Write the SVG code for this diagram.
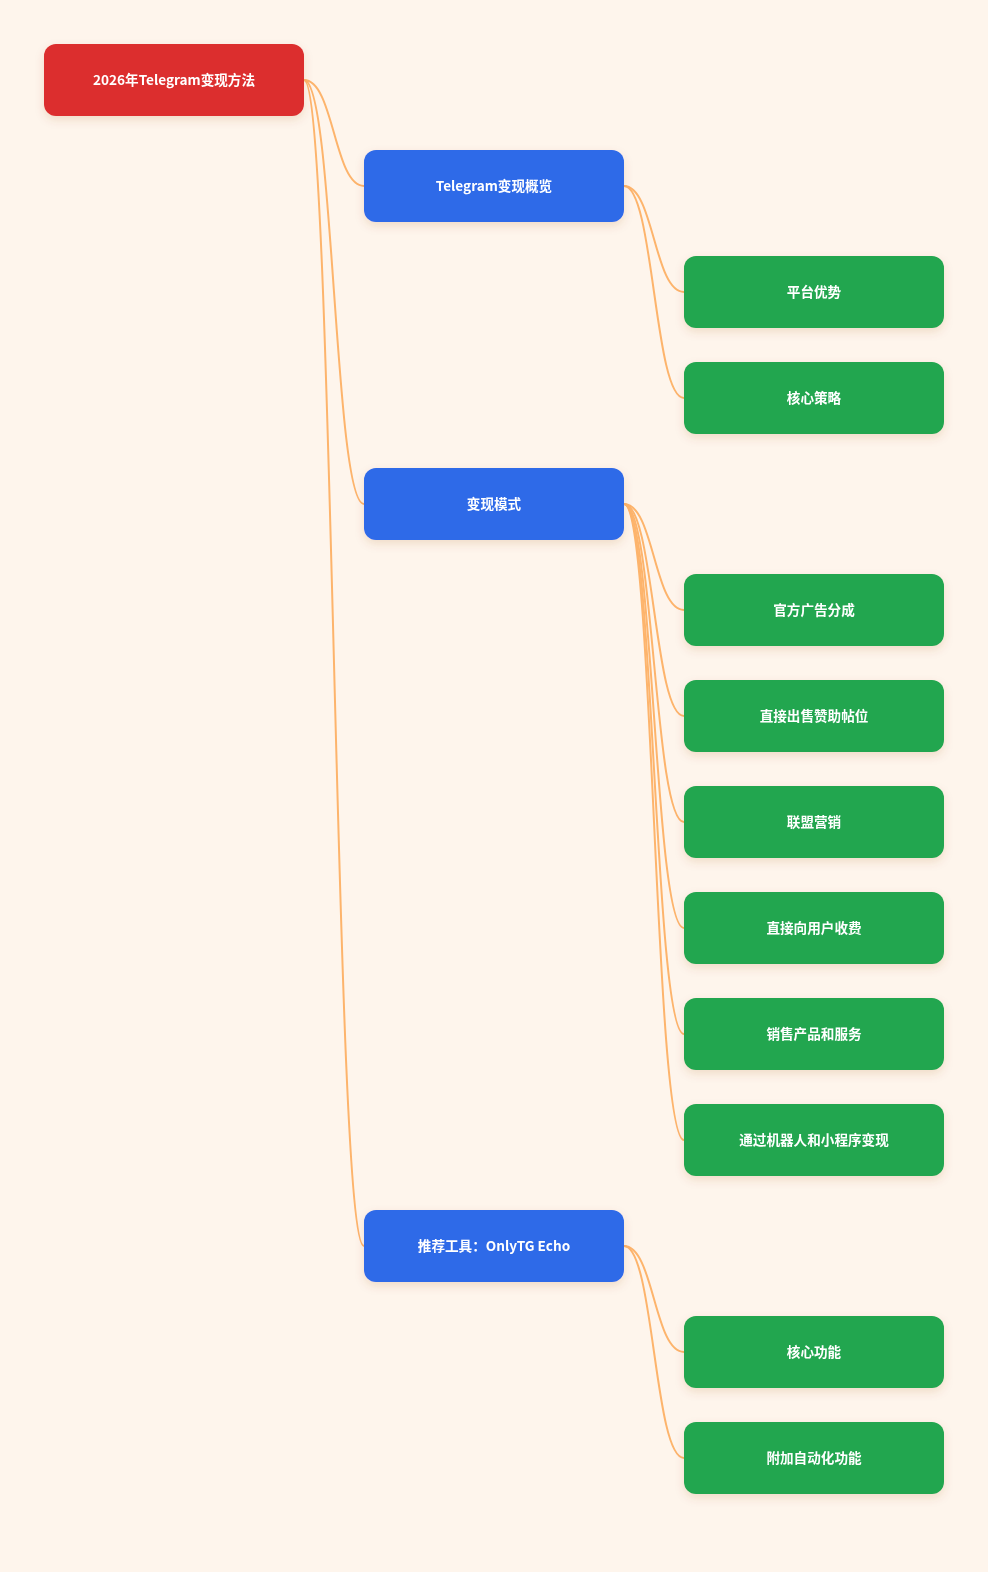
<svg xmlns="http://www.w3.org/2000/svg" width="988" height="1572" viewBox="0 0 988 1572">
<style>
.bg{fill:#fef5ec}
.node rect{rx:12;ry:12}
.root rect{fill:#dc2e2e}
.l1 rect{fill:#2f6ae8}
.l2 rect{fill:#22a650}
.node text{fill:#ffffff;font-family:"Noto Sans CJK SC","Noto Sans",sans-serif;font-size:13.6px;font-weight:bold;text-anchor:middle;dominant-baseline:central}
.links path{fill:none;stroke:#fdb46c;stroke-width:2}
</style>
<defs>
<filter id="sh" x="-20%" y="-30%" width="140%" height="180%">
<feDropShadow dx="0" dy="4" stdDeviation="5" flood-color="#a0521e" flood-opacity="0.15"/>
</filter>
</defs>
<rect class="bg" x="0" y="0" width="988" height="1572"/>
<g class="links">
<path d="M304,80 C334,80 334,186 364,186"/>
<path d="M304,80 C334,80 334,504 364,504"/>
<path d="M304,80 C334,80 334,1246 364,1246"/>
<path d="M624,186 C654,186 654,292 684,292"/>
<path d="M624,186 C654,186 654,398 684,398"/>
<path d="M624,504 C654,504 654,610 684,610"/>
<path d="M624,504 C654,504 654,716 684,716"/>
<path d="M624,504 C654,504 654,822 684,822"/>
<path d="M624,504 C654,504 654,928 684,928"/>
<path d="M624,504 C654,504 654,1034 684,1034"/>
<path d="M624,504 C654,504 654,1140 684,1140"/>
<path d="M624,1246 C654,1246 654,1352 684,1352"/>
<path d="M624,1246 C654,1246 654,1458 684,1458"/>
</g>
<g id="n0" class="node root" filter="url(#sh)"><rect x="44" y="44" width="260" height="72"/><text x="174" y="79">2026年Telegram变现方法</text></g>
<g id="n1" class="node l1" filter="url(#sh)"><rect x="364" y="150" width="260" height="72"/><text x="494" y="185">Telegram变现概览</text></g>
<g id="n2" class="node l2" filter="url(#sh)"><rect x="684" y="256" width="260" height="72"/><text x="814" y="291">平台优势</text></g>
<g id="n3" class="node l2" filter="url(#sh)"><rect x="684" y="362" width="260" height="72"/><text x="814" y="397">核心策略</text></g>
<g id="n4" class="node l1" filter="url(#sh)"><rect x="364" y="468" width="260" height="72"/><text x="494" y="503">变现模式</text></g>
<g id="n5" class="node l2" filter="url(#sh)"><rect x="684" y="574" width="260" height="72"/><text x="814" y="609">官方广告分成</text></g>
<g id="n6" class="node l2" filter="url(#sh)"><rect x="684" y="680" width="260" height="72"/><text x="814" y="715">直接出售赞助帖位</text></g>
<g id="n7" class="node l2" filter="url(#sh)"><rect x="684" y="786" width="260" height="72"/><text x="814" y="821">联盟营销</text></g>
<g id="n8" class="node l2" filter="url(#sh)"><rect x="684" y="892" width="260" height="72"/><text x="814" y="927">直接向用户收费</text></g>
<g id="n9" class="node l2" filter="url(#sh)"><rect x="684" y="998" width="260" height="72"/><text x="814" y="1033">销售产品和服务</text></g>
<g id="n10" class="node l2" filter="url(#sh)"><rect x="684" y="1104" width="260" height="72"/><text x="814" y="1139">通过机器人和小程序变现</text></g>
<g id="n11" class="node l1" filter="url(#sh)"><rect x="364" y="1210" width="260" height="72"/><text x="494" y="1245">推荐工具：OnlyTG Echo</text></g>
<g id="n12" class="node l2" filter="url(#sh)"><rect x="684" y="1316" width="260" height="72"/><text x="814" y="1351">核心功能</text></g>
<g id="n13" class="node l2" filter="url(#sh)"><rect x="684" y="1422" width="260" height="72"/><text x="814" y="1457">附加自动化功能</text></g>
</svg>
